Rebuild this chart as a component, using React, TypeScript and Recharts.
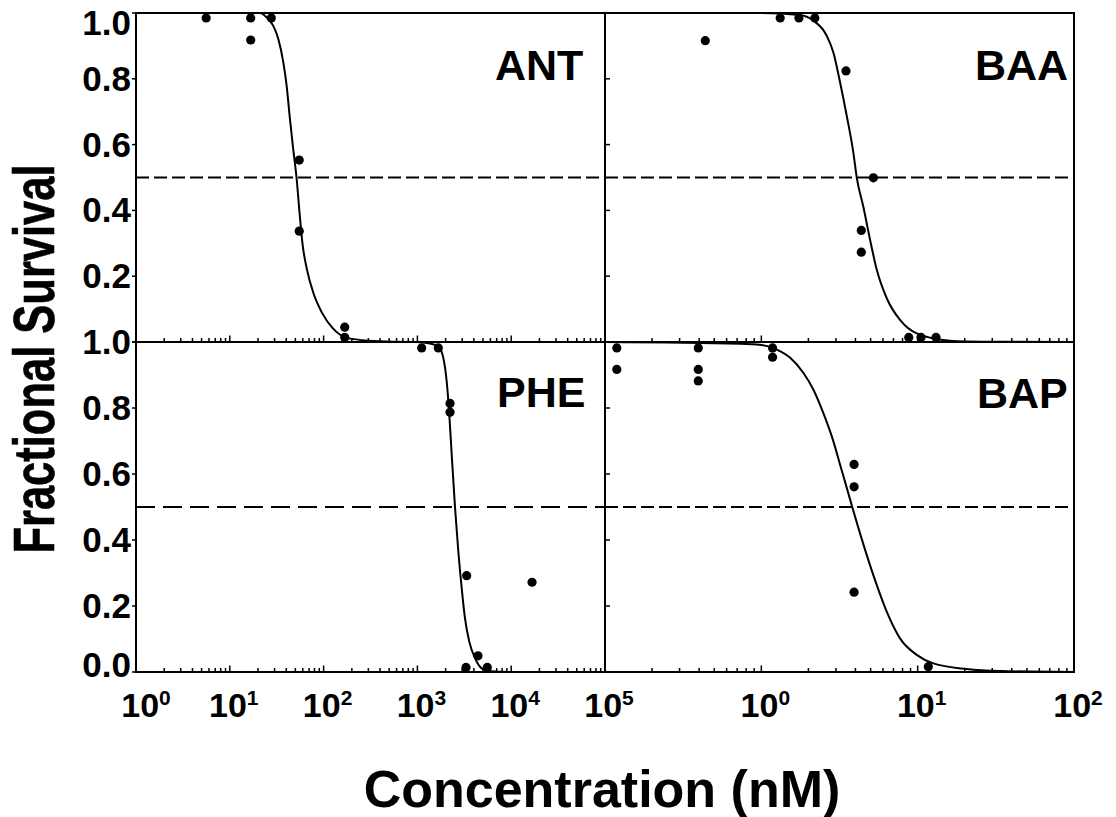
import React from "react";
import {
  ComposedChart,
  Line,
  Scatter,
  XAxis,
  YAxis,
  ReferenceLine,
  ReferenceArea,
} from "recharts";

const FONT = '"Liberation Sans", Arial, Helvetica, sans-serif';
const W = 1116;
const H = 817;

// panel frames in page pixels
const COL_X = [136, 605];
const ROW_Y = [13, 342];
const PANEL_W = 469;
const PANEL_H = [329, 330];

const LEFT_DOMAIN: [number, number] = [1, 100000];
const RIGHT_DOMAIN: [number, number] = [0.1, 100];
const LEFT_DECADES = [1, 10, 100, 1000, 10000, 100000];
const RIGHT_DECADES = [0.1, 1, 10, 100];
const Y_TICKS = [0, 0.2, 0.4, 0.6, 0.8, 1.0];

// measured survival (concentration nM, fraction)
const ANT_POINTS: [number, number][] = [
  [5.6, 0.985], [16.7, 0.985], [16.7, 0.918], [27.7, 0.985],
  [55, 0.553], [55, 0.337], [168, 0.045], [168, 0.014],
];
const BAA_POINTS: [number, number][] = [
  [0.438, 0.916], [1.32, 0.985], [1.74, 0.985], [2.2, 0.985], [3.48, 0.824],
  [5.21, 0.499], [4.36, 0.339], [4.36, 0.273], [8.77, 0.014], [10.5, 0.014], [13.1, 0.014],
];
const PHE_POINTS: [number, number][] = [
  [1111, 0.982], [1671, 0.982], [2228, 0.814], [2228, 0.787], [3352, 0.292],
  [16680, 0.272], [4426, 0.049], [3297, 0.014], [5560, 0.014],
];
const BAP_POINTS: [number, number][] = [
  [0.119, 0.982], [0.119, 0.917], [0.395, 0.982], [0.395, 0.917], [0.395, 0.882],
  [1.18, 0.982], [1.18, 0.954], [3.92, 0.629], [3.92, 0.561], [3.92, 0.242], [11.7, 0.016],
];

// fitted curves
const ANT_CURVE: [number, number][] = [
  [1, 1], [21, 1], [24.7, 0.987], [29.1, 0.961], [32.9, 0.921], [37.2, 0.85],
  [40.4, 0.778], [43.8, 0.677], [47.5, 0.585], [51.7, 0.494], [55.5, 0.39],
  [59.5, 0.3], [66.5, 0.22], [78, 0.148], [97, 0.087], [125, 0.042],
  [172, 0.014], [300, 0.004], [1000, 0], [100000, 0],
];
const BAA_CURVE: [number, number][] = [
  [0.1, 1], [1.0, 1.0], [1.77, 0.994], [2.15, 0.977], [2.62, 0.931], [2.89, 0.88],
  [3.19, 0.789], [3.52, 0.687], [3.88, 0.575], [4.08, 0.499], [4.49, 0.412],
  [4.96, 0.311], [5.47, 0.22], [6.34, 0.133], [7.71, 0.067], [9.86, 0.026],
  [16.1, 0.004], [26, 0.001], [100, 0],
];
const PHE_CURVE: [number, number][] = [
  [1, 1], [1000, 1], [1362, 0.995], [1671, 0.987], [1889, 0.952], [2052, 0.881],
  [2188, 0.78], [2321, 0.659], [2518, 0.499], [2731, 0.365], [2966, 0.254],
  [3214, 0.163], [3573, 0.092], [4110, 0.042], [4850, 0.011], [5943, 0.002],
  [10000, 0], [100000, 0],
];
const BAP_CURVE: [number, number][] = [
  [0.1, 1], [0.731, 0.995], [1.0, 0.991], [1.256, 0.977], [1.53, 0.952],
  [1.86, 0.906], [2.15, 0.856], [2.49, 0.785], [2.89, 0.699], [3.19, 0.628],
  [3.52, 0.558], [3.82, 0.499], [4.18, 0.436], [4.72, 0.355], [5.47, 0.264],
  [6.34, 0.183], [7.71, 0.102], [9.86, 0.052], [12.6, 0.026], [20.6, 0.009],
  [33.7, 0.003], [100, 0],
];

const AXIS = { stroke: "#000", strokeWidth: 2 };
const TICK = { stroke: "#000", strokeWidth: 1.5 };

// decades plus the 2..9 minor steps between them
function logTicks(decades: number[]) {
  const out: number[] = [];
  for (let i = 0; i < decades.length; i++) {
    out.push(decades[i]);
    if (i < decades.length - 1) {
      for (let m = 2; m <= 9; m++) out.push(decades[i] * m);
    }
  }
  return out;
}

const dotShape = (p: any) => <circle cx={p.cx} cy={p.cy} r={4.6} fill="#000" />;

type YMode = "top" | "bottom" | "none";

interface PanelProps {
  col: number;
  row: number;
  points: [number, number][];
  curve: [number, number][];
  showXLabels: boolean;
  yMode: YMode;
  dash?: string;
}

function Panel({ col, row, points, curve, showXLabels, yMode, dash = "13 5" }: PanelProps) {
  const left = COL_X[col];
  const top = ROW_Y[row];
  const h = PANEL_H[row];
  const isLeft = col === 0;
  const domain = isLeft ? LEFT_DOMAIN : RIGHT_DOMAIN;
  const decades = isLeft ? LEFT_DECADES : RIGHT_DECADES;
  const pts = points.map(([x, y]) => ({ x, y }));
  const line = curve.map(([x, y]) => ({ x, y }));
  const bottomY = top + h;

  // tick marks drawn here so majors and minors can have different lengths
  const xTick = (props: any) => {
    const { x, payload } = props;
    const v = payload.value as number;
    const major = decades.includes(v);
    const mark = (
      <line x1={x} x2={x} y1={bottomY} y2={bottomY - (major ? 6.5 : 4)} stroke="#000" strokeWidth={1.5} />
    );
    if (!major || !showXLabels || (!isLeft && v < 1)) return <g>{mark}</g>;
    const exp = Math.round(Math.log10(v));
    const shift = isLeft && exp === 0 ? 10 : 4;
    return (
      <g>
        {mark}
        <text x={x + shift} y={bottomY + 45} textAnchor="middle" fontFamily={FONT}
          fontWeight="bold" fontSize={34} fill="#000">
          10<tspan dy={-12} fontSize={21}>{exp}</tspan>
        </text>
      </g>
    );
  };

  const yTick = (props: any) => {
    const { x, y, payload } = props;
    const v = payload.value as number;
    if (yMode === "none") return <g />;
    if (yMode === "top" && v === 0) return <g />;
    let dy = 12;
    if (yMode === "top" && v === 1) dy = 22;
    if (yMode === "bottom" && v === 0) dy = 5;
    return (
      <text x={x} y={y + dy} textAnchor="end" fontFamily={FONT} fontWeight="bold"
        fontSize={35} fill="#000">
        {v.toFixed(1)}
      </text>
    );
  };

  // axes get 1px of room each (zero-size axes are not drawn)
  return (
    <div style={{ position: "absolute", left: 0, top: 0 }}>
      <ComposedChart
        width={W}
        height={H}
        margin={{ top, left: left - 1, right: W - left - PANEL_W, bottom: H - top - h - 1 }}
      >
        <XAxis dataKey="x" type="number" scale="log" domain={domain} allowDataOverflow
          ticks={logTicks(decades)} interval={0} height={1}
          axisLine={AXIS} tickLine={false} tick={xTick} />
        <YAxis dataKey="y" type="number" domain={[0, 1]} allowDataOverflow ticks={Y_TICKS}
          interval={0} width={1} tickSize={isLeft ? 4 : -5} tickMargin={1}
          axisLine={AXIS} tickLine={TICK} tick={yTick} />
        <ReferenceArea x1={domain[0]} x2={domain[1]} y1={0} y2={1} fill="none"
          stroke="#000" strokeWidth={2} ifOverflow="visible" />
        <ReferenceLine y={0.5} stroke="#000" strokeWidth={2} strokeDasharray={dash} />
        <Line data={line} dataKey="y" type="monotone" stroke="#000" strokeWidth={2}
          dot={false} activeDot={false} isAnimationActive={false} />
        <Scatter data={pts} fill="#000" shape={dotShape} isAnimationActive={false} />
      </ComposedChart>
    </div>
  );
}

const panelText = { fontFamily: FONT, fontWeight: "bold" as const, fill: "#000" };

export default function App() {
  return (
    <div style={{ position: "absolute", left: 0, top: 0, width: W, height: H, background: "#fff" }}>
      <Panel col={0} row={0} points={ANT_POINTS} curve={ANT_CURVE} showXLabels={false} yMode="top" />
      <Panel col={1} row={0} points={BAA_POINTS} curve={BAA_CURVE} showXLabels={false} yMode="none" />
      <Panel col={0} row={1} points={PHE_POINTS} curve={PHE_CURVE} showXLabels yMode="bottom" dash="19 8" />
      <Panel col={1} row={1} points={BAP_POINTS} curve={BAP_CURVE} showXLabels yMode="none" />
      <svg width={W} height={H} style={{ position: "absolute", left: 0, top: 0 }}>
        <text x={495} y={80} fontSize={43} {...panelText}>ANT</text>
        <text x={975} y={80} fontSize={43} {...panelText}>BAA</text>
        <text x={497} y={407} fontSize={43} {...panelText}>PHE</text>
        <text x={977} y={408} fontSize={43} {...panelText}>BAP</text>
        <text transform="translate(54,359) rotate(-90) scale(0.75,1)" textAnchor="middle"
          fontSize={58} stroke="#000" strokeWidth={0.6} {...panelText}>
          Fractional Survival
        </text>
        <text x={602} y={807} textAnchor="middle" fontSize={52} {...panelText}>
          Concentration (nM)
        </text>
      </svg>
    </div>
  );
}
